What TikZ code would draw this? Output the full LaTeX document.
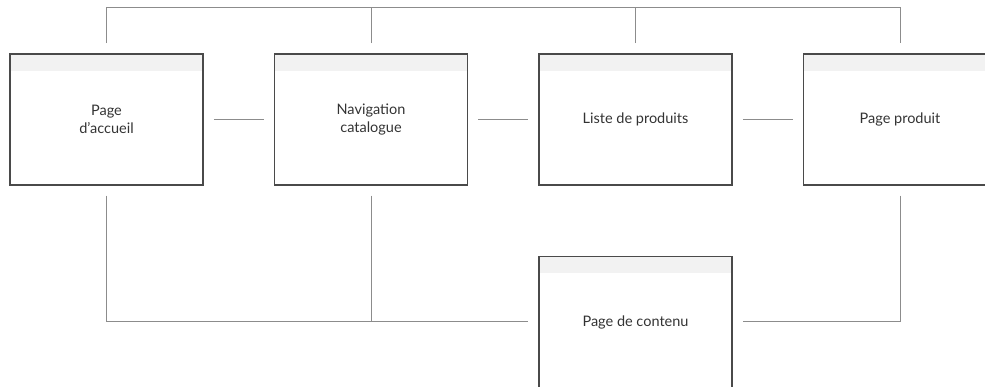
\documentclass[tikz,border=0pt]{standalone}
\usepackage{fontspec}
\setmainfont{Lato}
\usetikzlibrary{positioning,calc}
\definecolor{boxline}{HTML}{4A4A4A}
\definecolor{linkline}{HTML}{8C8C8C}
\definecolor{headfill}{HTML}{F2F2F2}
\definecolor{textgray}{HTML}{333333}

\begin{document}
\begin{tikzpicture}[node distance=70pt]

\tikzstyle{page}=[
  rectangle,
  draw=boxline,
  line width=1.5pt,
  minimum width=193pt,
  minimum height=131pt,
  align=center,
  text=textgray,
  font=\fontsize{14.5}{17.5}\selectfont,
  path picture={\fill[headfill] (path picture bounding box.north west)
    rectangle ([yshift=-17pt]path picture bounding box.north east);}
]
\tikzstyle{link}=[draw=linkline, line width=1pt]

\useasboundingbox (0,0) rectangle (985pt,387pt);
\clip (0,0) rectangle (985pt,387pt);

\node[page] (home) at (106.5pt,267.5pt) {Page\\d'accueil};

\node[page, right=of home] (nav) {Navigation\\catalogue};

\node[page, right=of nav] (list) {Liste de produits};

\node[page, right=of list] (product) {Page produit};

\node[page, below=of list] (content) {Page de contenu};

% Horizontal links
\draw[link] ([xshift=10pt]home.east) -- ([xshift=-10pt]nav.west);
\draw[link] ([xshift=10pt]nav.east) -- ([xshift=-10pt]list.west);
\draw[link] ([xshift=10pt]list.east) -- ([xshift=-10pt]product.west);

% Top bus
\coordinate (bus) at ($(home.north)+(0,46pt)$);
\draw[link] ([yshift=10pt]home.north) |- (bus) -| ([yshift=10pt]product.north);
\draw[link] ([yshift=10pt]nav.north) -- (nav.north |- bus);
\draw[link] ([yshift=10pt]list.north) -- (list.north |- bus);

% Links to content page
\draw[link] ([yshift=-10pt]home.south) |- ([xshift=-10pt]content.west);
\draw[link] ([yshift=-10pt]nav.south) -- (nav.south |- content.west);
\draw[link] ([yshift=-10pt]product.south) |- ([xshift=10pt]content.east);

\end{tikzpicture}
\end{document}
